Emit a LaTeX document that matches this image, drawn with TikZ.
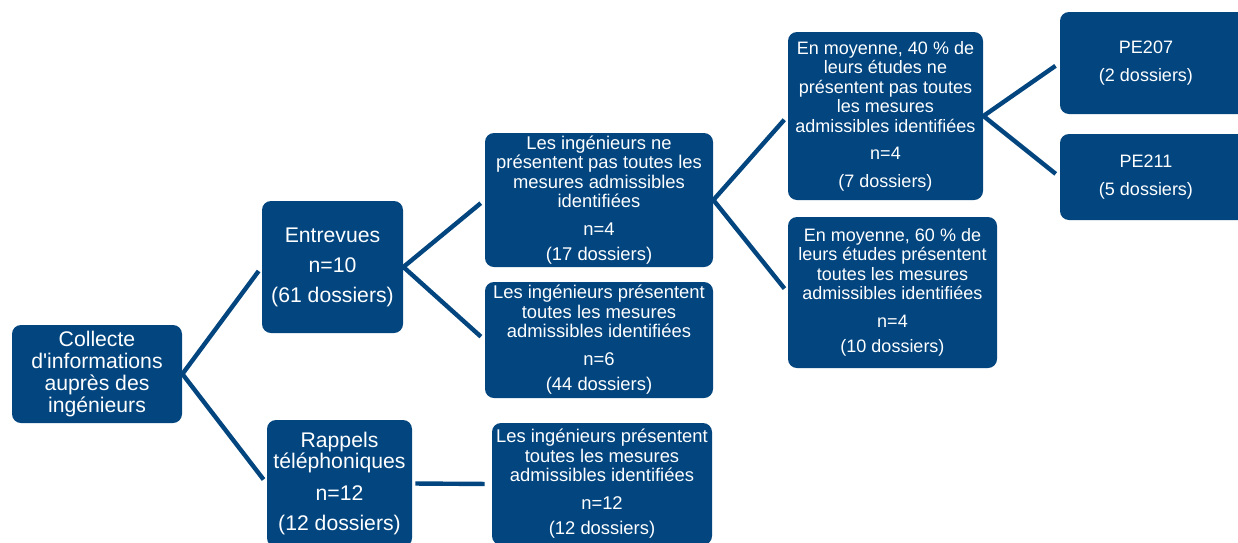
\documentclass[tikz,border=0pt]{standalone}
\usepackage{fontspec}
\setmainfont{Liberation Sans}[Ligatures=TeXOff]
\definecolor{boxblue}{HTML}{02457F}
\begin{document}
\begin{tikzpicture}[x=0.5pt,y=-0.5pt,
  box/.style={fill=boxblue, rounded corners=4.5pt, text=white, align=center, inner sep=0pt},
  txt/.style={text=white, align=center, inner sep=0pt},
  big/.style={font=\fontsize{10.6}{11}\selectfont},
  small/.style={font=\fontsize{9.2}{9.75}\selectfont},
  smaller/.style={font=\fontsize{9}{9.75}\selectfont},
  conn/.style={draw=boxblue, line width=2.2pt, shorten <=2.5pt, shorten >=2.5pt, line join=miter}]
\useasboundingbox (0,0) rectangle (1238,542);

\node[box, big, minimum width=85pt, minimum height=49pt] (A) at (97,374)
  {Collecte\\d'informations\\auprès des\\ingénieurs};
\node[box, big, minimum width=70.5pt, minimum height=66pt] (B) at (332.5,267)
  {Entrevues\\[4pt]n=10\\[4pt](61 dossiers)};
\node[box, big, minimum width=72.5pt, minimum height=63.5pt] (C) at (339.5,483.5)
  {Rappels\\[-0.5pt]téléphoniques\\[5pt]n=12\\[4pt](12 dossiers)};
\node[box, small, minimum width=114pt, minimum height=67pt] (D) at (599,200)
  {Les ingénieurs ne\\présentent pas toutes les\\mesures admissibles\\identifiées\\[4pt]n=4\\[3pt](17 dossiers)};
\node[box, small, minimum width=114pt, minimum height=58pt] (E) at (599,340)
  {Les ingénieurs présentent\\toutes les mesures\\admissibles identifiées\\[4pt]n=6\\[3pt](44 dossiers)};
\node[box, small, minimum width=110pt, minimum height=61pt] (F) at (602,484)
  {Les ingénieurs présentent\\toutes les mesures\\admissibles identifiées\\[4pt]n=12\\[3pt](12 dossiers)};
\node[box, smaller, minimum width=97.5pt, minimum height=84pt] (G) at (885.5,116)
  {En moyenne, 40 \% de\\leurs études ne\\présentent pas toutes\\les mesures\\admissibles identifiées\\[4pt]n=4\\[4pt](7 dossiers)};
\node[box, smaller, minimum width=104.5pt, minimum height=75.5pt] (H) at (892.5,292.5)
  {En moyenne, 60 \% de\\leurs études présentent\\toutes les mesures\\admissibles identifiées\\[4pt]n=4\\[3pt](10 dossiers)};
\node[box, minimum width=95pt, minimum height=51pt] (I) at (1155,63) {};
\node[txt, smaller] (It) at (1146,63) {PE207\\[4.25pt](2 dossiers)};
\node[box, minimum width=95pt, minimum height=43pt] (J) at (1155,177) {};
\node[txt, smaller] (Jt) at (1146,177) {PE211\\[4.25pt](5 dossiers)};

\draw[conn] (B.west) -- (A.east) -- (C.west);
\draw[conn] (D.west) -- (B.east) -- (E.west);
\draw[conn, shorten <=1.5pt, shorten >=3.5pt] (C.east) -- (F.west);
\draw[conn] (G.west) -- (D.east) -- (H.west);
\draw[conn] (I.west) -- (G.east) -- (J.west);
\end{tikzpicture}
\end{document}
